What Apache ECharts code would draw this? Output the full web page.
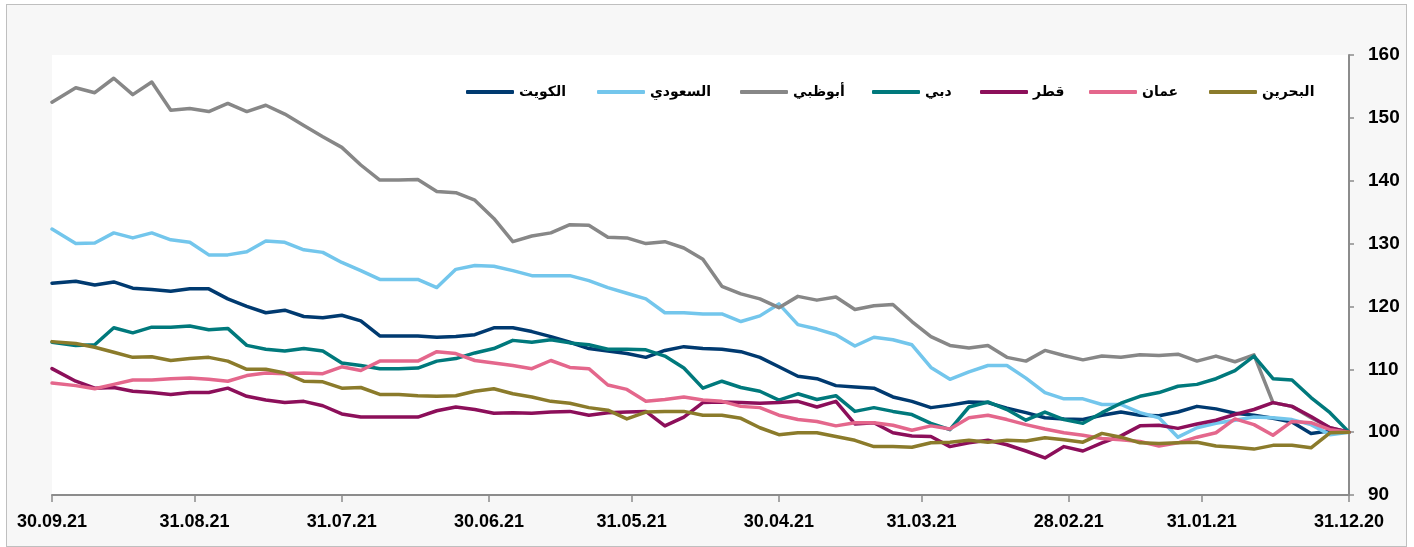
<!DOCTYPE html>
<html>
<head>
<meta charset="utf-8">
<script src="https://cdn.jsdelivr.net/npm/echarts@6/dist/echarts.min.js"></script>
<style>
html,body{margin:0;padding:0;background:#ffffff;}
#frame{position:absolute;left:6px;top:4px;width:1399px;height:541px;background:#f7f7f7;border:1px solid #bfbfbf;}
#chart{position:absolute;left:0;top:0;width:1414px;height:547px;}
</style>
</head>
<body>
<div id="frame"></div>
<div id="chart"></div>
<script>
// sample dates, left to right (30.09.21 -> 31.12.20)
const dates = ['30.09.21','25.09.21','21.09.21','17.09.21','13.09.21','09.09.21','05.09.21','01.09.21',
'28.08.21','24.08.21','20.08.21','16.08.21','12.08.21','08.08.21','04.08.21','31.07.21',
'27.07.21','23.07.21','19.07.21','15.07.21','11.07.21','07.07.21','03.07.21','29.06.21',
'25.06.21','21.06.21','17.06.21','13.06.21','09.06.21','05.06.21','01.06.21','28.05.21',
'24.05.21','20.05.21','16.05.21','12.05.21','08.05.21','04.05.21','30.04.21','26.04.21',
'22.04.21','18.04.21','14.04.21','10.04.21','06.04.21','02.04.21','29.03.21','25.03.21',
'21.03.21','17.03.21','13.03.21','09.03.21','05.03.21','01.03.21','25.02.21','21.02.21',
'17.02.21','13.02.21','09.02.21','05.02.21','01.02.21','28.01.21','24.01.21','20.01.21',
'16.01.21','12.01.21','08.01.21','04.01.21','31.12.20'];

const kuwait = [123.7,124.0,123.4,123.9,122.9,122.7,122.4,122.8,122.8,121.2,120.0,119.0,
119.4,118.4,118.2,118.6,117.7,115.3,115.3,115.3,115.1,115.2,115.5,116.6,
116.6,116.0,115.2,114.3,113.3,112.9,112.5,111.9,113.0,113.6,113.3,
113.2,112.8,111.9,110.4,108.9,108.5,107.4,107.2,107.0,105.6,104.9,103.9,
104.3,104.8,104.7,103.8,103.1,102.3,102.1,102.0,102.7,103.2,102.7,
102.6,103.2,104.1,103.7,103.0,102.7,102.2,101.6,99.8,100.2,100];

const saudi = [132.3,130.0,130.1,131.7,130.9,131.7,130.6,130.2,128.2,128.2,128.7,130.4,
130.2,129.0,128.6,127.0,125.7,124.3,124.3,124.3,123.0,125.9,126.5,126.4,
125.7,124.9,124.9,124.9,124.1,123.0,122.1,121.2,119.0,119.0,118.8,
118.8,117.6,118.5,120.4,117.1,116.4,115.5,113.7,115.1,114.7,113.9,110.3,
108.4,109.6,110.6,110.6,108.6,106.3,105.3,105.3,104.4,104.4,103.1,
102.3,99.2,100.7,101.4,101.9,102.4,102.3,102.0,101.2,99.6,100];

const abuDhabi = [152.5,154.8,154.0,156.3,153.7,155.7,151.2,151.5,151.0,152.3,151.0,152.0,
150.6,148.8,147.0,145.3,142.5,140.1,140.1,140.2,138.3,138.1,136.9,134.0,
130.3,131.2,131.7,133.0,132.9,131.0,130.9,130.0,130.3,129.3,127.5,
123.2,122.0,121.2,119.8,121.6,121.0,121.5,119.5,120.1,120.3,117.6,115.2,
113.8,113.4,113.8,111.9,111.3,113.0,112.2,111.5,112.1,111.9,112.3,
112.2,112.4,111.3,112.1,111.2,112.3,104.7,104.1,102.3,100.7,100];

const dubai = [114.3,113.8,113.9,116.6,115.8,116.7,116.7,116.9,116.3,116.5,113.8,113.2,
112.9,113.3,112.9,111.0,110.6,110.1,110.1,110.2,111.3,111.7,112.6,113.3,
114.6,114.3,114.7,114.2,113.9,113.2,113.2,113.1,112.1,110.2,107.0,
108.1,107.1,106.5,105.1,106.1,105.2,105.8,103.3,103.9,103.3,102.8,101.4,
100.4,104.0,104.8,103.6,101.9,103.2,102.0,101.4,103.1,104.6,105.7,
106.3,107.3,107.6,108.5,109.8,112.1,108.5,108.3,105.5,103.1,100];

const qatar = [110.1,108.1,107.0,107.1,106.5,106.3,106.0,106.3,106.3,107.0,105.7,105.1,
104.7,104.9,104.2,102.9,102.4,102.4,102.4,102.4,103.4,104.0,103.6,103.0,
103.1,103.0,103.2,103.3,102.7,103.1,103.2,103.3,101.0,102.4,104.7,
104.8,104.7,104.6,104.7,104.9,104.0,104.9,101.3,101.5,99.9,99.4,99.3,
97.7,98.3,98.7,98.0,97.0,95.9,97.7,97.0,98.3,99.4,101.0,
101.1,100.6,101.3,101.9,102.8,103.6,104.7,104.1,102.5,100.7,100];

const oman = [107.8,107.4,106.9,107.6,108.3,108.3,108.5,108.6,108.4,108.1,109.0,109.4,
109.3,109.4,109.3,110.4,109.8,111.3,111.3,111.3,112.8,112.5,111.4,111.0,
110.6,110.1,111.4,110.3,110.1,107.5,106.8,104.9,105.2,105.6,105.1,
104.9,104.1,103.9,102.7,102.0,101.7,101.0,101.5,101.5,101.1,100.3,101.0,
100.5,102.3,102.7,102.0,101.2,100.5,99.9,99.5,99.0,98.8,98.5,
97.8,98.3,99.2,99.9,102.1,101.2,99.5,101.7,101.5,100.4,100];

const bahrain = [114.4,114.1,113.5,112.7,111.9,112.0,111.4,111.7,111.9,111.3,110.0,110.0,
109.4,108.1,108.0,107.0,107.1,106.0,106.0,105.8,105.7,105.8,106.5,106.9,
106.1,105.6,104.9,104.6,103.9,103.5,102.1,103.2,103.3,103.3,102.7,
102.7,102.2,100.7,99.6,99.9,99.9,99.3,98.7,97.7,97.7,97.6,98.3,
98.4,98.7,98.4,98.7,98.6,99.1,98.8,98.4,99.8,99.2,98.3,
98.2,98.3,98.4,97.8,97.6,97.3,97.9,97.9,97.5,99.9,100];

const tickLabels = ['31.12.20','31.01.21','28.02.21','31.03.21','30.04.21','31.05.21',
'30.06.21','31.07.21','31.08.21','30.09.21'];

const seriesNames = ['الكويت','السعودي','أبوظبي','دبي','قطر','عمان','البحرين'];
const seriesValues = [kuwait, saudi, abuDhabi, dubai, qatar, oman, bahrain];
const seriesColors = ['#003A70','#73C6EC','#878787','#00797C','#8C0F5A','#E4678C','#8B7B2B'];
const legendLeft = [461, 592, 735, 867, 975, 1084, 1204];

// daily category axis (calendar days)
function fmt(d){
  const dd = String(d.getUTCDate()).padStart(2,'0');
  const mm = String(d.getUTCMonth()+1).padStart(2,'0');
  const yy = String(d.getUTCFullYear()).slice(2);
  return dd + '.' + mm + '.' + yy;
}
const days = [];
for (let t = Date.UTC(2020,11,31); t <= Date.UTC(2021,8,30); t += 86400000) {
  days.push(fmt(new Date(t)));
}
const dayIndex = {};
days.forEach((d,i)=>{ dayIndex[d] = i; });
const tickSet = new Set(tickLabels);

const chart = echarts.init(document.getElementById('chart'), null, {renderer:'canvas'});
const option = {
  animation: false,
  backgroundColor: 'transparent',
  grid: {left: 52, right: 65, top: 55, bottom: 52, show: true, backgroundColor: '#ffffff', borderWidth: 0},
  legend: seriesNames.map((n,i)=>({
    data: [n], left: legendLeft[i], top: 80,
    icon: 'roundRect', itemWidth: 48, itemHeight: 4,
    textStyle: {fontFamily: 'DejaVu Sans', fontWeight: 'bold', fontSize: 14, color: '#000'},
    selectedMode: false
  })),
  xAxis: {
    type: 'category', data: days, inverse: true, boundaryGap: false,
    axisLine: {lineStyle: {color: '#8c8c8c', width: 2}},
    axisTick: {show: true, length: 7, lineStyle: {color: '#8c8c8c', width: 1.5},
      interval: (i, v) => tickSet.has(v)},
    axisLabel: {interval: (i, v) => tickSet.has(v), margin: 18,
      fontFamily: 'Liberation Sans, Arial, sans-serif', fontWeight: 'bold', fontSize: 18, color: '#000'},
    splitLine: {show: false}
  },
  yAxis: {
    type: 'value', position: 'right', min: 90, max: 160, interval: 10,
    axisLine: {show: true, lineStyle: {color: '#8c8c8c', width: 2}},
    axisTick: {show: true, length: 5, lineStyle: {color: '#8c8c8c', width: 1.5}},
    axisLabel: {margin: 19, fontFamily: 'Liberation Sans, Arial, sans-serif', fontWeight: 'bold', fontSize: 19, color: '#000'},
    splitLine: {show: false}
  },
  series: seriesNames.map((n,i)=>({
    name: n, type: 'line', showSymbol: false, symbol: 'none',
    color: seriesColors[i],
    lineStyle: {width: 3.5, color: seriesColors[i], cap: 'round', join: 'round'},
    data: dates.map((d,k)=>[dayIndex[d], seriesValues[i][k]])
  }))
};
chart.setOption(option);
</script>
</body>
</html>
